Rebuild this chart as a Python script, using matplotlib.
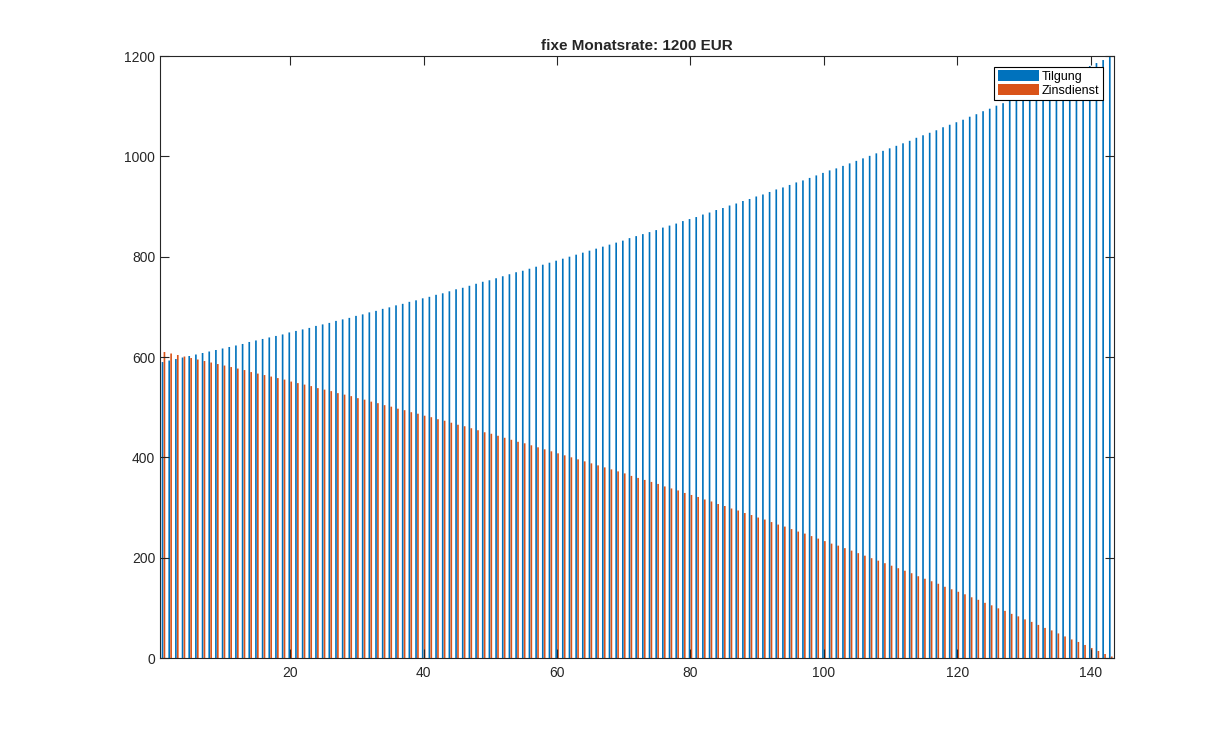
import matplotlib
matplotlib.use("Agg")
import matplotlib.pyplot as plt
import numpy as np

# Tilgung / Zinsdienst pro Monat
tilgung = [
    590, 593, 596, 599, 602, 605, 608, 611, 614, 617,
    620, 623, 626, 630, 633, 636, 639, 642, 645, 649,
    652, 655, 658, 662, 665, 668, 672, 675, 678, 682,
    685, 689, 692, 696, 699, 703, 706, 710, 713, 717,
    720, 724, 727, 731, 735, 738, 742, 746, 750, 753,
    757, 761, 765, 769, 772, 776, 780, 784, 788, 792,
    796, 800, 804, 808, 812, 816, 820, 824, 828, 832,
    837, 841, 845, 849, 853, 858, 862, 866, 871, 875,
    879, 884, 888, 893, 897, 902, 906, 911, 915, 920,
    924, 929, 934, 938, 943, 948, 952, 957, 962, 967,
    972, 976, 981, 986, 991, 996, 1001, 1006, 1011, 1016,
    1021, 1026, 1031, 1037, 1042, 1047, 1052, 1058, 1063, 1068,
    1073, 1079, 1084, 1090, 1095, 1101, 1106, 1112, 1117, 1123,
    1128, 1134, 1140, 1145, 1151, 1157, 1163, 1168, 1174, 1180,
    1186, 1192, 1198,
]
zinsdienst = [
    610, 607, 604, 601, 598, 595, 592, 589, 586, 583,
    580, 577, 574, 570, 567, 564, 561, 558, 555, 551,
    548, 545, 542, 538, 535, 532, 528, 525, 522, 518,
    515, 511, 508, 504, 501, 497, 494, 490, 487, 483,
    480, 476, 473, 469, 465, 462, 458, 454, 450, 447,
    443, 439, 435, 431, 428, 424, 420, 416, 412, 408,
    404, 400, 396, 392, 388, 384, 380, 376, 372, 368,
    363, 359, 355, 351, 347, 342, 338, 334, 329, 325,
    321, 316, 312, 307, 303, 298, 294, 289, 285, 280,
    276, 271, 266, 262, 257, 252, 248, 243, 238, 233,
    228, 224, 219, 214, 209, 204, 199, 194, 189, 184,
    179, 174, 169, 163, 158, 153, 148, 142, 137, 132,
    127, 121, 116, 110, 105, 99, 94, 88, 83, 77,
    72, 66, 60, 55, 49, 43, 37, 32, 26, 20,
    14, 8, 3,
]
labels = ["Tilgung", "Zinsdienst"]
title = "fixe Monatsrate: 1200 EUR"

plt.rcParams["font.family"] = ["Liberation Sans", "DejaVu Sans"]

fig = plt.figure(figsize=(12.32, 7.41), dpi=100)
ax = fig.add_axes([0.13, 0.112, 0.7743, 0.8124])

months = np.arange(1, len(tilgung) + 1)
off = 0.143
w = 0.25
ax.bar(months - off, tilgung, width=w, color="#0072BD", linewidth=0, snap=False, label=labels[0])
ax.bar(months + off, zinsdienst, width=w, color="#D95319", linewidth=0, snap=False, label=labels[1])

ax.set_xlim(0.5, len(months) + 0.5)
ax.set_ylim(0, 1200)
ax.set_xticks(range(20, 141, 20))
ax.set_yticks(range(0, 1201, 200))

dark = "#262626"
for s in ax.spines.values():
    s.set_color(dark)
    s.set_linewidth(0.8)
ax.tick_params(direction="in", length=6.5, width=0.8, color=dark, labelcolor=dark,
               labelsize=10, top=True, right=True)
ax.tick_params(axis="x", pad=6)

ax.set_title(title, fontsize=11, fontweight="bold", color=dark, pad=4)

leg = ax.legend(loc="upper right", fontsize=9, handlelength=3.3, handleheight=0.9,
                handletextpad=0.25, borderpad=0.3, labelspacing=0.1,
                borderaxespad=0.85, fancybox=False, framealpha=1)
leg.get_frame().set_edgecolor("black")
leg.get_frame().set_linewidth(0.8)

fig.savefig("out.png", dpi=100)
